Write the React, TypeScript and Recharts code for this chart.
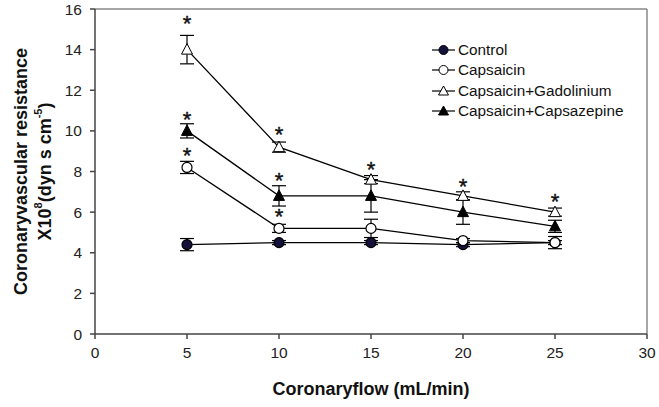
import React from 'react';
import { ComposedChart, Line, Scatter, XAxis, YAxis, ErrorBar, ReferenceLine, Label } from 'recharts';

const flow = [5, 10, 15, 20, 25];
const control = [4.4, 4.5, 4.5, 4.4, 4.5];
const controlErr = [0.3, 0.1, 0.1, 0.1, 0.1];
const capsaicin = [8.2, 5.2, 5.2, 4.6, 4.5];
const capsaicinErr = [0.3, 0.2, 0.45, 0.1, 0.3];
const gadolinium = [14.0, 9.2, 7.6, 6.8, 6.0];
const gadoliniumErr = [0.7, 0.25, 0.2, 0.2, 0.2];
const capsazepine = [10.0, 6.8, 6.8, 6.0, 5.3];
const capsazepineErr = [0.35, 0.5, 0.8, 0.6, 0.3];

// significance markers
const starFlow = [5, 5, 5, 10, 10, 10, 15, 20, 25];
const starY = [15.5, 10.8, 9.0, 10.05, 7.8, 6.0, 8.3, 7.5, 6.75];

const xTicks = [0, 5, 10, 15, 20, 25, 30];
const yTicks = [0, 2, 4, 6, 8, 10, 12, 14, 16];

const rows = flow.map((f, i) => ({
  flow: f,
  control: control[i], controlErr: controlErr[i],
  capsaicin: capsaicin[i], capsaicinErr: capsaicinErr[i],
  gadolinium: gadolinium[i], gadoliniumErr: gadoliniumErr[i],
  capsazepine: capsazepine[i], capsazepineErr: capsazepineErr[i],
}));
const stars = starFlow.map((f, i) => ({ flow: f, y: starY[i] }));

const FONT = '"Liberation Sans", Arial, sans-serif';

const Tri = ({ cx, cy, fill }: any) => {
  if (cx == null || cy == null) return null;
  return <path d={`M${cx},${cy - 6} L${cx + 5.5},${cy + 4.5} L${cx - 5.5},${cy + 4.5} Z`} fill={fill} stroke="#000" strokeWidth={1} />;
};

const Circ = ({ cx, cy, fill }: any) => {
  if (cx == null || cy == null) return null;
  return <circle cx={cx} cy={cy} r={5} fill={fill} stroke="#000" strokeWidth={1.2} />;
};

const series = [
  { key: 'control', name: 'Control', shape: 'circle', fill: '#12123a' },
  { key: 'capsaicin', name: 'Capsaicin', shape: 'circle', fill: '#fff' },
  { key: 'gadolinium', name: 'Capsaicin+Gadolinium', shape: 'tri', fill: '#fff' },
  { key: 'capsazepine', name: 'Capsaicin+Capsazepine', shape: 'tri', fill: '#000' },
];

const LegendBox = () => (
  <div style={{ position: 'absolute', left: 431, top: 40, fontFamily: FONT, fontSize: 15.3, color: '#111' }}>
    {series.map((s) => (
      <div key={s.key} style={{ display: 'flex', alignItems: 'center', height: 20.3 }}>
        <svg width={25} height={14} style={{ marginRight: 2 }}>
          <line x1={1} y1={7} x2={24} y2={7} stroke="#000" strokeWidth={1.2} />
          {s.shape === 'circle'
            ? <circle cx={12.5} cy={7} r={4.5} fill={s.fill} stroke="#000" />
            : <path d="M12.5,2 L17.5,11 L7.5,11 Z" fill={s.fill} stroke="#000" />}
        </svg>
        <span>{s.name}</span>
      </div>
    ))}
  </div>
);

const YTitle = ({ viewBox }: any) => {
  const cy = viewBox.y + viewBox.height / 2;
  return (
    <g fontFamily={FONT} fontWeight="bold" fontSize={18} fill="#111">
      <text x={21} y={cy} transform={`rotate(-90 21 ${cy})`} textAnchor="middle" dominantBaseline="central">
        Coronaryvascular resistance
      </text>
      <text x={45} y={cy} transform={`rotate(-90 45 ${cy})`} textAnchor="middle" dominantBaseline="central">
        X10<tspan dy={-7} fontSize={11}>8</tspan><tspan dy={7}>(dyn s cm</tspan><tspan dy={-7} fontSize={11}>-5</tspan><tspan dy={7}>)</tspan>
      </text>
    </g>
  );
};

const Star = ({ cx, cy }: any) => {
  if (cx == null || cy == null) return null;
  return <text x={cx} y={cy + 12} textAnchor="middle" fontFamily={FONT} fontSize={22} fill="#111" stroke="#111" strokeWidth={0.4}>*</text>;
};

export default function App() {
  return (
    <div style={{ position: 'absolute', left: 0, top: 0, width: 659, height: 407, background: '#fff' }}>
      <ComposedChart width={659} height={407} data={rows} margin={{ top: 9, right: 12, bottom: 0, left: 0 }}>
        <XAxis
          dataKey="flow" type="number" domain={[0, 30]} ticks={xTicks}
          height={73} tickSize={5} tickMargin={8} stroke="#444" strokeWidth={1.5}
          tick={{ fill: '#222', fontSize: 15.5, fontFamily: FONT }}
        >
          <Label value="Coronaryflow (mL/min)" position="insideBottom" offset={12}
            style={{ fontFamily: FONT, fontWeight: 'bold', fontSize: 18, fill: '#111' }} />
        </XAxis>
        <YAxis
          type="number" domain={[0, 16]} ticks={yTicks} width={95} tickSize={5} tickMargin={8}
          stroke="#444" strokeWidth={1.5} tick={{ fill: '#222', fontSize: 15.5, fontFamily: FONT }}
        >
          <Label content={<YTitle />} />
        </YAxis>
        <ReferenceLine y={16} stroke="#888" strokeWidth={1.5} />
        <ReferenceLine x={30} stroke="#888" strokeWidth={1.5} />
        {series.map((s) => (
          <Line
            key={s.key} dataKey={s.key} name={s.name} stroke="#000" strokeWidth={1.3}
            isAnimationActive={false}
            dot={s.shape === 'circle' ? <Circ fill={s.fill} /> : <Tri fill={s.fill} />}
            activeDot={false}
          >
            <ErrorBar dataKey={`${s.key}Err`} width={7} stroke="#000" strokeWidth={1.2} direction="y" />
          </Line>
        ))}
        <Scatter data={stars} dataKey="y" shape={<Star />} isAnimationActive={false} legendType="none" />
      </ComposedChart>
      <LegendBox />
    </div>
  );
}
